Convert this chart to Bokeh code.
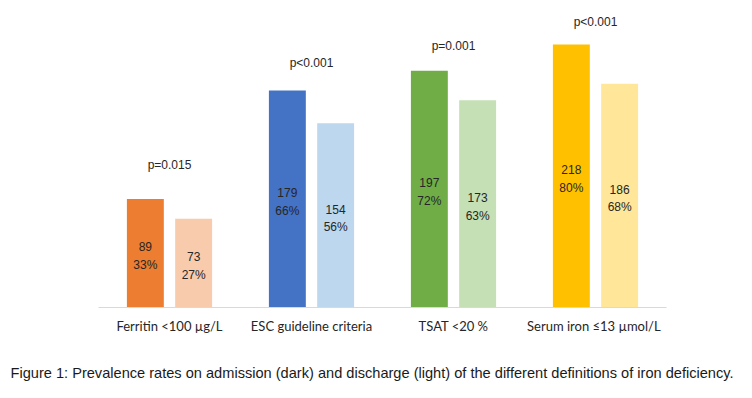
from bokeh.plotting import figure
from bokeh.models import FactorRange, ColumnDataSource, Title
from bokeh.transform import dodge
from bokeh.core.properties import value
from bokeh.embed import file_html
from bokeh.resources import INLINE

categories = ["Ferritin <100 µg/L", "ESC guideline criteria", "TSAT <20 %", "Serum iron ≤13  µmol/L"]
adm_pct = [33, 66, 72, 80]
dis_pct = [27, 56, 63, 68]
adm_n = [89, 179, 197, 218]
dis_n = [73, 154, 173, 186]
p_values = ["p=0.015", "p<0.001", "p=0.001", "p<0.001"]
caption = "Figure 1: Prevalence rates on admission (dark) and discharge (light) of the different definitions of iron deficiency."

dark_colors = ["#ED7D31", "#4472C4", "#70AD47", "#FFC000"]
light_colors = ["#F8CBAD", "#BDD7EE", "#C5E0B4", "#FFE699"]
p_offsets = [-34, -27, -25, -22]

src = ColumnDataSource(dict(
    cat=categories,
    adm=adm_pct, dis=dis_pct,
    adm_mid=[v / 2 for v in adm_pct], dis_mid=[v / 2 for v in dis_pct],
    adm_lbl=[f"{n}\n{p}%" for n, p in zip(adm_n, adm_pct)],
    dis_lbl=[f"{n}\n{p}%" for n, p in zip(dis_n, dis_pct)],
    dark=dark_colors, light=light_colors,
    pv=p_values, poff=p_offsets,
))

p = figure(frame_width=568, frame_height=297, x_range=FactorRange(factors=categories, range_padding=0),
           y_range=(0, 90.3), output_backend="svg", toolbar_location=None,
           min_border_left=98, min_border_right=78, min_border_top=10, min_border_bottom=20)
p.outline_line_color = None
p.grid.visible = False
p.yaxis.visible = False
p.background_fill_color = "white"
p.border_fill_color = "white"

off = 0.17
bw = 0.26
p.vbar(x=dodge("cat", -off, range=p.x_range), top="adm", width=bw, fill_color="dark", line_color=None, source=src)
p.vbar(x=dodge("cat", off, range=p.x_range), top="dis", width=bw, fill_color="light", line_color=None, source=src)

lab_kw = dict(text_font=value("Liberation Sans"), text_font_size="12px", text_color="#262626",
              text_align="center", text_baseline="middle", text_line_height=1.25, y_offset=3)
p.text(x=dodge("cat", -off, range=p.x_range), y="adm_mid", text="adm_lbl", source=src, **lab_kw)
p.text(x=dodge("cat", off, range=p.x_range), y="dis_mid", text="dis_lbl", source=src, **lab_kw)
p.text(x=dodge("cat", 0, range=p.x_range), y="adm", text="pv", y_offset="poff", source=src,
       text_font=value("Liberation Sans"), text_font_size="12px", text_color="#262626",
       text_align="center", text_baseline="middle")

ax = p.xaxis[0]
ax.axis_line_color = "#D9D9D9"
ax.axis_line_width = 1
ax.major_tick_line_color = None
ax.minor_tick_line_color = None
ax.major_label_text_font = "Lato"
ax.major_label_text_font_size = "13px"
ax.major_label_text_color = "#262626"
ax.major_label_standoff = 4

cap = Title(text=caption, align="left", offset=-88, standoff=52,
            text_font="Liberation Sans", text_font_size="14.6px", text_font_style="normal",
            text_color="#1a1a1a")
p.add_layout(cap, "below")

open("out.html", "w").write(file_html(p, INLINE))
